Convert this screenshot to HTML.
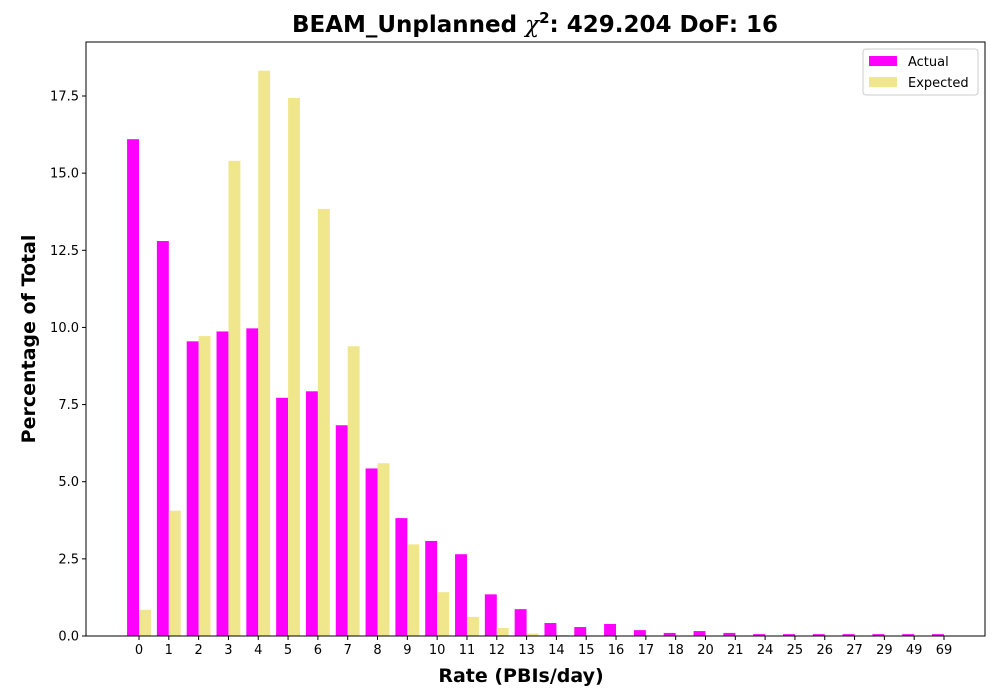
<!DOCTYPE html>
<html><head><meta charset="utf-8"><style>
body{margin:0;background:#fff;}
svg{display:block;font-family:"DejaVu Sans","Liberation Sans",sans-serif;}
</style></head><body>
<svg id="chart" width="1000" height="700" xmlns="http://www.w3.org/2000/svg">
<rect width="1000" height="700" fill="#fff"/>
<text x="535" y="32" text-anchor="middle" font-size="23" font-weight="bold">BEAM_Unplanned <tspan font-style="italic" font-weight="normal" font-family="DejaVu Serif,serif">χ</tspan><tspan font-size="15" dy="-9">2</tspan><tspan dy="9">: 429.204 DoF: 16</tspan></text>
<g id="bars"></g>
<g id="axes"></g>
<text x="521" y="682" text-anchor="middle" font-size="19" font-weight="bold">Rate (PBIs/day)</text>
<text transform="translate(35,339) rotate(-90)" text-anchor="middle" font-size="19" font-weight="bold">Percentage of Total</text>
<g>
<rect x="863" y="49" width="115" height="46" rx="3" fill="#fff" stroke="#ccc"/>
<rect x="869" y="56" width="28" height="10" fill="#ff00ff"/>
<text x="908" y="66" font-size="13">Actual</text>
<rect x="869" y="77" width="28" height="10" fill="#f0e68c"/>
<text x="908" y="87" font-size="13">Expected</text>
</g>
</svg>
<script>
const categories=["0","1","2","3","4","5","6","7","8","9","10","11","12","13","14","15","16","17","18","20","21","24","25","26","27","29","49","69"];
const actual=[16.1,12.8,9.55,9.87,9.97,7.72,7.93,6.83,5.43,3.82,3.08,2.65,1.35,0.87,0.42,0.29,0.39,0.19,0.1,0.16,0.1,0.06,0.06,0.06,0.06,0.06,0.06,0.06];
const expected=[0.85,4.06,9.72,15.4,18.32,17.44,13.84,9.39,5.6,2.97,1.42,0.62,0.26,0.08,0.03,0.02,0,0,0,0,0,0,0,0,0,0,0,0];
const yTicks=[0,2.5,5,7.5,10,12.5,15,17.5];
const L=86,R=985,T=42,B=636;
const x=i=>139+i*(944-139)/27;
const y=v=>B-v*(B-96)/17.5;
const NS="http://www.w3.org/2000/svg";
const bars=document.getElementById('bars'),axes=document.getElementById('axes');
function mk(tag,attrs,parent){const e=document.createElementNS(NS,tag);for(const k in attrs)e.setAttribute(k,attrs[k]);parent.appendChild(e);return e;}
const bw=(944-139)/27*0.4;
categories.forEach((c,i)=>{
 const a=mk('rect',{x:x(i)-bw,y:y(actual[i]),width:bw,height:B-y(actual[i]),fill:'#ff00ff'},bars);
 
 
 const e=mk('rect',{x:x(i),y:y(expected[i]),width:bw,height:B-y(expected[i]),fill:'#f0e68c'},bars);
 
 
 mk('line',{x1:x(i),x2:x(i),y1:B,y2:B+4,stroke:'#000'},axes);
 const t=mk('text',{x:x(i),y:B+18,'text-anchor':'middle','font-size':13},axes);
 t.textContent=c;
 
 
});
yTicks.forEach(v=>{
 mk('line',{x1:L-4,x2:L,y1:y(v),y2:y(v),stroke:'#000'},axes);
 const t=mk('text',{x:L-7,y:y(v)+4.5,'text-anchor':'end','font-size':13},axes);
 t.textContent=v.toFixed(1);
 
 
});
const f=mk('rect',{x:L,y:T,width:R-L,height:B-T,fill:'none',stroke:'#000'},axes);


</script>
</body></html>
